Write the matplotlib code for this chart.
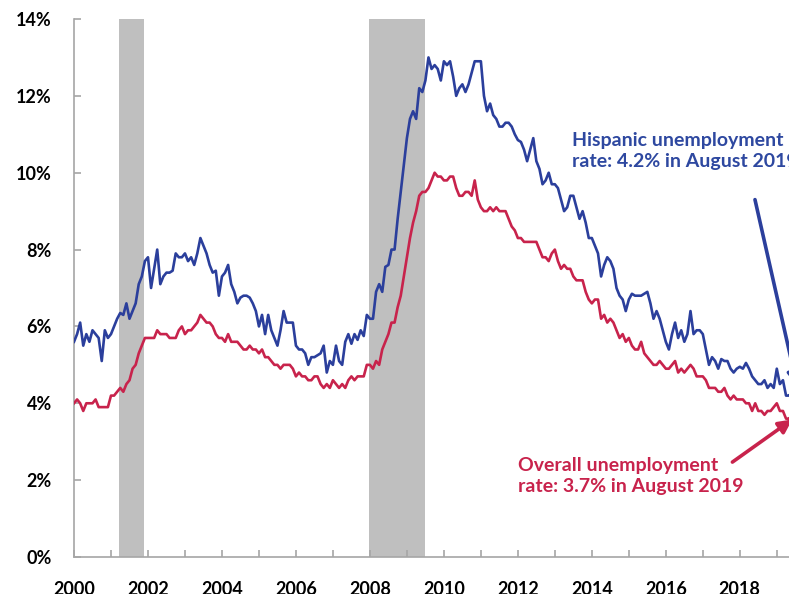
import numpy as np
import matplotlib
matplotlib.use("Agg")
import matplotlib.pyplot as plt
from matplotlib.ticker import MultipleLocator, FuncFormatter

# monthly rates, Jan 2000 .. Aug 2019 (percent)
hispanic = [
    5.6, 5.8, 6.1, 5.5, 5.8, 5.6, 5.9, 5.8, 5.7, 5.1, 5.9, 5.7,        # 2000
    5.8, 6.0, 6.2, 6.35, 6.3, 6.6, 6.2, 6.4, 6.6, 7.1, 7.3, 7.7,       # 2001
    7.8, 7.0, 7.5, 8.0, 7.1, 7.3, 7.4, 7.4, 7.45, 7.9, 7.8, 7.8,       # 2002
    7.9, 7.7, 7.8, 7.6, 7.9, 8.3, 8.1, 7.9, 7.6, 7.4, 7.45, 6.8,       # 2003
    7.3, 7.4, 7.6, 7.1, 6.9, 6.6, 6.75, 6.8, 6.8, 6.75, 6.6, 6.4,      # 2004
    6.0, 6.3, 5.8, 6.3, 5.9, 5.7, 5.5, 5.9, 6.4, 6.1, 6.1, 6.1,        # 2005
    5.5, 5.4, 5.4, 5.3, 5.0, 5.2, 5.2, 5.25, 5.3, 5.5, 4.8, 5.1,       # 2006
    5.0, 5.5, 5.1, 5.0, 5.6, 5.8, 5.55, 5.8, 5.65, 5.9, 5.75, 6.3,     # 2007
    6.2, 6.2, 6.9, 7.1, 6.9, 7.55, 7.6, 8.0, 8.0, 8.8, 9.5, 10.2,      # 2008
    10.9, 11.4, 11.6, 11.4, 12.2, 12.1, 12.4, 13.0, 12.7, 12.8, 12.7, 12.4,  # 2009
    12.9, 12.8, 12.9, 12.5, 12.0, 12.2, 12.3, 12.1, 12.3, 12.6, 12.9, 12.9,  # 2010
    12.9, 12.0, 11.6, 11.8, 11.5, 11.4, 11.2, 11.2, 11.3, 11.3, 11.2, 11.0,  # 2011
    10.85, 10.8, 10.6, 10.3, 10.6, 10.9, 10.3, 10.1, 9.7, 9.8, 10.0, 9.7,   # 2012
    9.7, 9.6, 9.3, 9.0, 9.1, 9.4, 9.4, 9.1, 8.8, 9.0, 8.7, 8.3,        # 2013
    8.3, 8.1, 7.9, 7.3, 7.6, 7.8, 7.7, 7.5, 7.0, 6.8, 6.7, 6.4,        # 2014
    6.7, 6.85, 6.8, 6.8, 6.8, 6.85, 6.9, 6.6, 6.2, 6.4, 6.2, 5.9,      # 2015
    5.6, 5.4, 5.8, 6.1, 5.7, 5.9, 5.6, 5.8, 6.4, 5.8, 5.9, 5.9,        # 2016
    5.8, 5.4, 5.0, 5.2, 5.1, 4.9, 5.15, 5.1, 5.1, 4.9, 4.8, 4.9,       # 2017
    4.95, 4.9, 5.05, 4.9, 4.7, 4.6, 4.5, 4.5, 4.6, 4.4, 4.5, 4.4,      # 2018
    4.9, 4.5, 4.6, 4.2, 4.2, 4.3, 4.5, 4.2,                            # 2019
]

overall = [
    4.0, 4.1, 4.0, 3.8, 4.0, 4.0, 4.0, 4.1, 3.9, 3.9, 3.9, 3.9,   # 2000
    4.2, 4.2, 4.3, 4.4, 4.3, 4.5, 4.6, 4.9, 5.0, 5.3, 5.5, 5.7,   # 2001
    5.7, 5.7, 5.7, 5.9, 5.8, 5.8, 5.8, 5.7, 5.7, 5.7, 5.9, 6.0,   # 2002
    5.8, 5.9, 5.9, 6.0, 6.1, 6.3, 6.2, 6.1, 6.1, 6.0, 5.8, 5.7,   # 2003
    5.7, 5.6, 5.8, 5.6, 5.6, 5.6, 5.5, 5.4, 5.4, 5.5, 5.4, 5.4,   # 2004
    5.3, 5.4, 5.2, 5.2, 5.1, 5.0, 5.0, 4.9, 5.0, 5.0, 5.0, 4.9,   # 2005
    4.7, 4.8, 4.7, 4.7, 4.6, 4.6, 4.7, 4.7, 4.5, 4.4, 4.5, 4.4,   # 2006
    4.6, 4.5, 4.4, 4.5, 4.4, 4.6, 4.7, 4.6, 4.7, 4.7, 4.7, 5.0,   # 2007
    5.0, 4.9, 5.1, 5.0, 5.4, 5.6, 5.8, 6.1, 6.1, 6.5, 6.8, 7.3,   # 2008
    7.8, 8.3, 8.7, 9.0, 9.4, 9.5, 9.5, 9.6, 9.8, 10.0, 9.9, 9.9,  # 2009
    9.8, 9.8, 9.9, 9.9, 9.6, 9.4, 9.4, 9.5, 9.5, 9.4, 9.8, 9.3,   # 2010
    9.1, 9.0, 9.0, 9.1, 9.0, 9.1, 9.0, 9.0, 9.0, 8.8, 8.6, 8.5,   # 2011
    8.3, 8.3, 8.2, 8.2, 8.2, 8.2, 8.2, 8.0, 7.8, 7.8, 7.7, 7.9,   # 2012
    8.0, 7.7, 7.5, 7.6, 7.5, 7.5, 7.3, 7.2, 7.2, 7.2, 6.9, 6.7,   # 2013
    6.6, 6.7, 6.7, 6.2, 6.3, 6.1, 6.2, 6.1, 5.9, 5.7, 5.8, 5.6,   # 2014
    5.7, 5.5, 5.4, 5.4, 5.6, 5.3, 5.2, 5.1, 5.0, 5.0, 5.1, 5.0,   # 2015
    4.9, 4.9, 5.0, 5.1, 4.8, 4.9, 4.8, 4.9, 5.0, 4.9, 4.7, 4.7,   # 2016
    4.7, 4.6, 4.4, 4.4, 4.4, 4.3, 4.3, 4.4, 4.2, 4.1, 4.2, 4.1,   # 2017
    4.1, 4.1, 4.0, 4.0, 3.8, 4.0, 3.8, 3.8, 3.7, 3.8, 3.8, 3.9,   # 2018
    4.0, 3.8, 3.8, 3.6, 3.6, 3.7, 3.7, 3.7,                       # 2019
]

recessions = [(2001.22, 2001.90), (2007.98, 2009.49)]
year_ticks = list(range(2000, 2020))
year_labels = list(range(2000, 2020, 2))

blue = "#2B3F9C"
red = "#C8234C"
grey = "#A6A6A6"
fonts = ["Lato", "DejaVu Sans"]

months = 2000 + np.arange(len(hispanic)) / 12.0

fig = plt.figure(figsize=(7.89, 5.94), dpi=100)
ax = fig.add_axes([74 / 789, 37 / 594, 715 / 789, 538 / 594])

for a, b in recessions:
    ax.axvspan(a, b, color="#BFBFBF", lw=0, zorder=0)

ax.plot(months, hispanic, color=blue, lw=1.9, zorder=3, clip_on=True)
ax.plot(months, overall, color=red, lw=1.9, zorder=3, clip_on=True)

ax.set_xlim(2000, 2019.33)
ax.set_ylim(0, 14)

for s in ["top", "right"]:
    ax.spines[s].set_visible(False)
for s in ["left", "bottom"]:
    ax.spines[s].set_color(grey)
    ax.spines[s].set_linewidth(1.2)

ax.set_xticks(year_labels)
ax.set_xticks(year_ticks, minor=True)
ax.yaxis.set_major_locator(MultipleLocator(2))
ax.yaxis.set_major_formatter(FuncFormatter(lambda v, p: f"{v:.0f}%"))
ax.tick_params(axis="both", which="both", direction="in", color=grey, width=1.2)
ax.tick_params(axis="x", which="both", length=5, pad=17)
ax.tick_params(axis="y", length=5, pad=16)

for lab in ax.get_xticklabels() + ax.get_yticklabels():
    lab.set_family(fonts)
    lab.set_fontweight("bold")
    lab.set_fontsize(13)

# annotations
ax.text(2013.45, 11.05, "Hispanic unemployment\nrate: 4.2% in August 2019",
        color="#2E48A0", fontsize=14, fontweight="bold", family=fonts,
        ha="left", va="top", linespacing=1.25, clip_on=False)
ax.annotate("", xy=(2019.55, 4.45), xytext=(2018.41, 9.3),
            arrowprops=dict(arrowstyle="-|>", color=blue, lw=2.6,
                            mutation_scale=20, shrinkA=0, shrinkB=0),
            annotation_clip=False)

ax.text(2012.0, 2.6, "Overall unemployment\nrate: 3.7% in August 2019",
        color=red, fontsize=14, fontweight="bold", family=fonts,
        ha="left", va="top", linespacing=1.25, clip_on=False)
ax.annotate("", xy=(2019.42, 3.58), xytext=(2017.8, 2.47),
            arrowprops=dict(arrowstyle="-|>", color=red, lw=2.6,
                            mutation_scale=20, shrinkA=0, shrinkB=0),
            annotation_clip=False)

fig.savefig("out.png", dpi=100)
